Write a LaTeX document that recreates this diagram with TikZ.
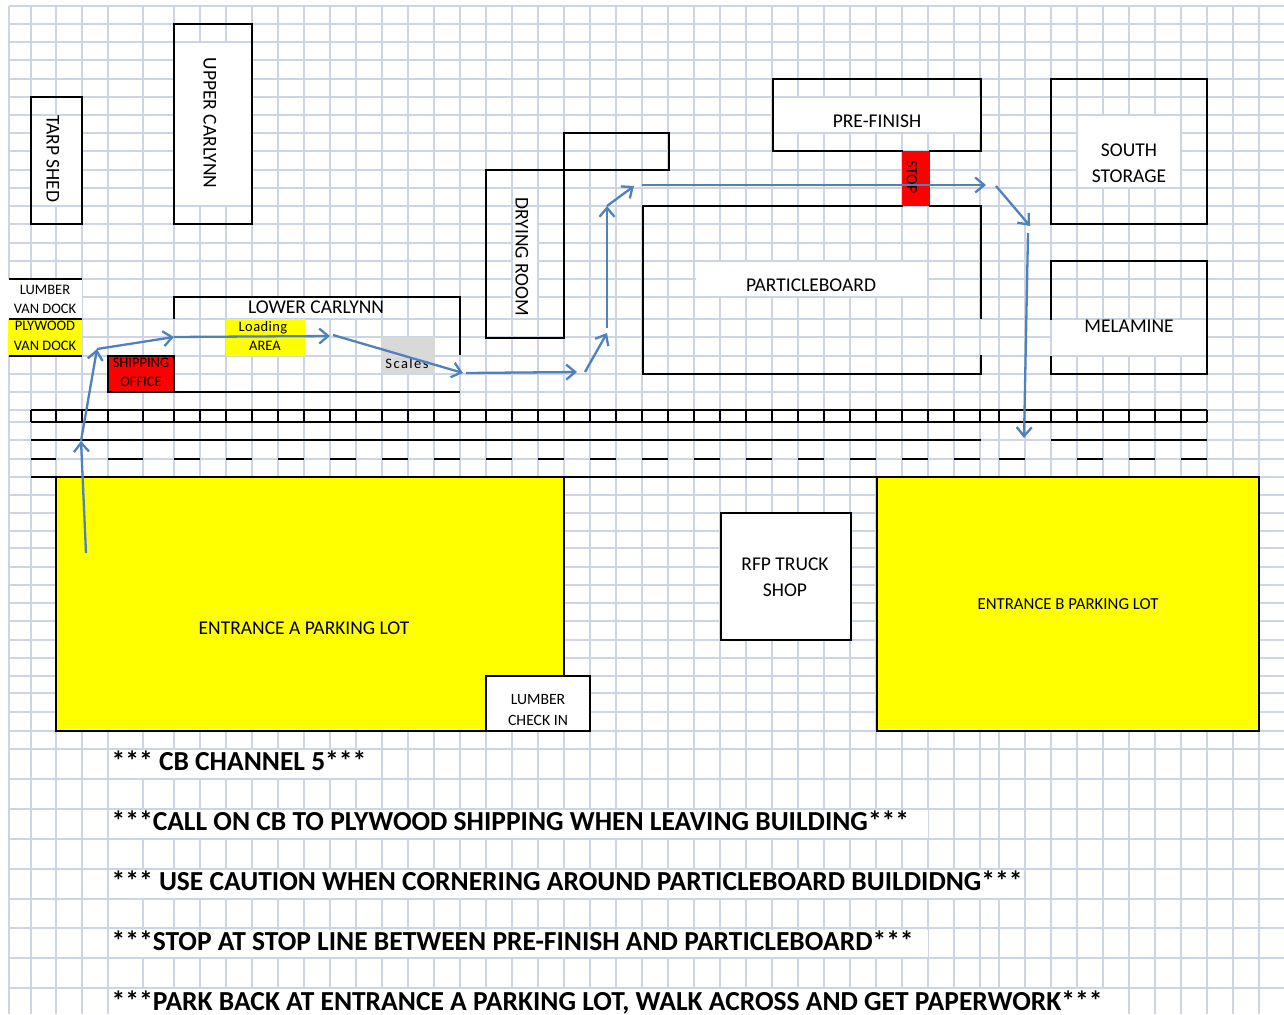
\documentclass[tikz,border=0pt]{standalone}
\usepackage{fontspec}
\setmainfont{Carlito}
\usetikzlibrary{arrows.meta}
\definecolor{gridblue}{HTML}{CDD5E5}
\definecolor{routeblue}{HTML}{4F81BD}
\definecolor{scalegray}{HTML}{D9D9D9}
\definecolor{lotyellow}{RGB}{255,255,0}
\definecolor{stopred}{RGB}{255,0,0}
\tikzset{
  gridline/.style={draw=gridblue,line width=1.6pt},
  wall/.style={draw=black,line width=2pt},
  mask/.style={fill=white},
  route/.style={draw=routeblue,line width=2.3pt,-{Straight Barb[length=9pt,width=15pt,line width=2.3pt]}},
  lbl/.style={inner sep=0pt,text=black,font=\fontsize{19.5}{19.5}\selectfont},
  small/.style={inner sep=0pt,text=black,font=\fontsize{14.5}{14.5}\selectfont},
  check/.style={inner sep=0pt,text=black,font=\fontsize{15.7}{15.7}\selectfont},
  note/.style={inner sep=0pt,anchor=base west,text=black,font=\fontsize{27.5}{27.5}\selectfont\bfseries},
}
\begin{document}
\begin{tikzpicture}[x=1pt,y=-1pt]
  \useasboundingbox (0,0) rectangle (1284,1014);
  \fill[white] (0,0) rectangle (1284,1014);
  % sheet grid
  \begin{scope}
    \clip (0,0) rectangle (1284,1014);
    \foreach \x in {9,31,56,82,108,143,174,200,...,980,999,1025,...,1285}
      \draw[gridline] (\x,6) -- (\x,1014);
    \foreach \y in {6,24,42,60,79,97,115,133,151,170,188,206,224,243,261,279,297,319,337,356,374,392,410,422,440,459,477,495,513,531,548,567,585,603,621,640,658,676,693,712,731,749,779,809,839,869,899,928,958,988}
      \draw[gridline] (9,\y) -- (1284,\y);
  \end{scope}
  % merged cells
  \fill[mask] (1078,116) rectangle (1180,187);
  \fill[mask] (774,98) rectangle (980,132);
  \fill[mask] (696,262) rectangle (927,296);
  \fill[mask] (1052,320) rectangle (1206,355);
  \fill[mask] (513,207) rectangle (537,316);
  \fill[mask] (227,298) rectangle (381,318);
  \fill[mask] (8,279) rectangle (82,319);
  \fill[mask] (32,116) rectangle (81,205);
  \fill[mask] (175,43) rectangle (251,205);
  \fill[mask] (110,750) rectangle (381,778);
  \fill[mask] (110,810) rectangle (928,838);
  \fill[mask] (110,870) rectangle (1024,898);
  \fill[mask] (110,930) rectangle (928,957);
  \fill[mask] (110,989) rectangle (1128,1014);
  % coloured areas
  \fill[lotyellow] (8,319) rectangle (82,356);
  \fill[lotyellow,rounded corners=1pt] (226,319) rectangle (305,356);
  \fill[scalegray] (382,337) rectangle (435,374);
  \fill[stopred] (902,151) rectangle (930,206);
  \filldraw[wall,fill=stopred] (108,356) rectangle (174,392);
  \filldraw[wall,fill=lotyellow] (56,477) rectangle (564,731);
  \filldraw[wall,fill=lotyellow] (877,477) rectangle (1259,731);
  \filldraw[wall,fill=white] (486,676) rectangle (590,731);
  \filldraw[wall,fill=white] (721,513) rectangle (851,640);
  % buildings
  \draw[wall] (31,97) rectangle (82,224);
  \draw[wall] (174,24) rectangle (252,224);
  \draw[wall] (1051,79) rectangle (1207,224);
  \draw[wall] (903,151) -- (773,151) -- (773,79) -- (981,79) -- (981,151) -- (929,151);
  \draw[wall] (486,170) -- (669,170) -- (669,133) -- (564,133) -- (564,338) -- (486,338) -- cycle;
  \draw[wall] (981,319) -- (981,206) -- (929,206);
  \draw[wall] (903,206) -- (643,206) -- (643,374) -- (981,374) -- (981,355);
  \draw[wall] (1051,320) -- (1051,261) -- (1207,261) -- (1207,374) -- (1051,374) -- (1051,356);
  \draw[wall] (174,319) -- (174,297) -- (460,297) -- (460,355);
  \draw[wall] (174,392) -- (460,392);
  \draw[wall] (9,279) -- (82,279);
  \draw[wall] (9,319) -- (82,319);
  \draw[wall] (9,356) -- (82,356);
  % road
  \draw[wall] (31,410) -- (1207,410);
  \draw[wall] (31,422) -- (1207,422);
  \draw[wall] (31,440) -- (981,440);
  \draw[wall] (1051,440) -- (1207,440);
  \draw[wall] (31,477) -- (1259,477);
  \foreach \x in {31,56,82,108,143,174,200,...,980,999,1051,1077,...,1207}
    \draw[wall] (\x,410) -- (\x,422);
  \foreach \x/\w in {31/56,108/143,174/200,226/252,278/304,330/356,382/408,434/460,486/512,538/564,590/616,642/668,694/720,746/772,798/824,850/876,902/928,954/980,999/1025,1077/1103,1129/1155,1181/1207}
    \draw[wall] (\x,459) -- (\w,459);
  % labels
  \node[lbl,rotate=-90] (tarp) at (53,159) {TARP SHED};
  \node[lbl,rotate=-90] (upper) at (210,123) {UPPER CARLYNN};
  \node[lbl,rotate=-90] (drying) at (522,257) {DRYING ROOM};
  \node[lbl] (lower) at (316,307.5) {LOWER CARLYNN};
  \node[lbl] (prefinish) at (877,121.5) {PRE-FINISH};
  \node[lbl] (particle) at (811,285.5) {PARTICLEBOARD};
  \node[lbl] (melamine) at (1129,326.5) {MELAMINE};
  \node[lbl] (south) at (1129,150.5) {SOUTH};
  \node[lbl] (storage) at (1129,176.5) {STORAGE};
  \node[lbl] (rfp) at (785,564.5) {RFP TRUCK};
  \node[lbl] (shop) at (785,590.5) {SHOP};
  \node[lbl] (lota) at (304,628.5) {ENTRANCE A PARKING LOT};
  \node[lbl,font=\fontsize{16.8}{16.8}\selectfont] (lotb) at (1068,604.5) {ENTRANCE B PARKING LOT};
  \node[small] (lumber) at (45,289.5) {LUMBER};
  \node[small] (vana) at (45,308.5) {VAN DOCK};
  \node[small] (plywood) at (45,325.5) {PLYWOOD};
  \node[small] (vanb) at (45,345.5) {VAN DOCK};
  \node[small] (shipping) at (141,362.5) {SHIPPING};
  \node[small] (office) at (141,381.5) {OFFICE};
  \node[small] (loading) at (263,327.5) {\addfontfeature{LetterSpace=3}Loading};
  \node[small] (area) at (265,345.5) {AREA};
  \node[small] (scales) at (407,363.5) {\addfontfeature{LetterSpace=10}Scales};
  \node[check] (lumberin) at (538,699.5) {LUMBER};
  \node[check] (checkin) at (538,720.5) {CHECK IN};
  \node[check,rotate=-90] (stop) at (912,177) {STOP};
  % notes
  \node[note] (cb) at (111.5,770) {*** CB CHANNEL 5***};
  \node[note] (call) at (111.5,830) {***CALL ON CB TO PLYWOOD SHIPPING WHEN LEAVING BUILDING***};
  \node[note] (caution) at (111.5,890) {*** USE CAUTION WHEN CORNERING AROUND PARTICLEBOARD BUILDIDNG***};
  \node[note] (stopline) at (111.5,950) {***STOP AT STOP LINE BETWEEN PRE-FINISH AND PARTICLEBOARD***};
  \node[note] (park) at (111.5,1010) {***PARK BACK AT ENTRANCE A PARKING LOT, WALK ACROSS AND GET PAPERWORK***};
  % truck route
  \coordinate (r0) at (86,553);
  \coordinate (r1) at (81,441);
  \coordinate (r2) at (97,349);
  \coordinate (r3) at (174,337);
  \coordinate (r4) at (330,336);
  \coordinate (r5) at (333,335);
  \coordinate (r6) at (463,373);
  \coordinate (r7) at (466,373);
  \coordinate (r8) at (577,372);
  \coordinate (r9) at (585,372);
  \coordinate (r10) at (607,333);
  \coordinate (r11) at (607,328);
  \coordinate (r12) at (607,206);
  \coordinate (r13) at (634,186);
  \coordinate (r14) at (642,185);
  \coordinate (r15) at (986,185);
  \coordinate (r16) at (996,186);
  \coordinate (r17) at (1030,226);
  \coordinate (r18) at (1028,233);
  \coordinate (r19) at (1024,438);
  \draw[route] (r0) -- (r1);
  \draw[route] (r1) -- (r2);
  \draw[route] (r2) -- (r3);
  \draw[route] (r3) -- (r4);
  \draw[route] (r5) -- (r6);
  \draw[route] (r7) -- (r8);
  \draw[route] (r9) -- (r10);
  \draw[route] (r11) -- (r12);
  \draw[route] (r12) -- (r13);
  \draw[route] (r14) -- (r15);
  \draw[route] (r16) -- (r17);
  \draw[route] (r18) -- (r19);
\end{tikzpicture}
\end{document}
